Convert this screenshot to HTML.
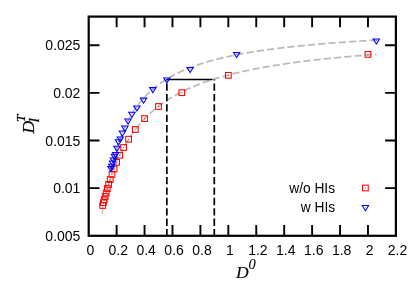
<!DOCTYPE html>
<html><head><meta charset="utf-8"><title>chart</title>
<style>html,body{margin:0;padding:0;background:#fff;overflow:hidden}svg{display:block;will-change:transform}</style></head>
<body>
<svg width="415" height="294" viewBox="0 0 415 294">
<rect width="415" height="294" fill="#fff"/>
<defs><linearGradient id="gg" gradientUnits="userSpaceOnUse" x1="110" y1="0" x2="185" y2="0"><stop offset="0" stop-color="#c4c4c4"/><stop offset="1" stop-color="#bababa"/></linearGradient></defs>
<path d="M102.25,213.9 L102.75,206" fill="none" stroke="#c0c0c0" stroke-width="1.5"/>
<path d="M102.70,205.65 L103.62,201.96 L104.53,198.42 L105.45,195.02 L106.36,191.76 L107.28,188.62 L108.19,185.61 L109.11,182.71 L110.02,179.91 L110.94,177.22 L111.85,174.62 L112.77,172.12 L113.68,169.69 L114.60,167.35 L115.52,165.09 L116.43,162.90 L117.35,160.79 L118.26,158.73 L119.18,156.75 L120.09,154.82 L121.01,152.95 L121.92,151.14 L122.84,149.38 L123.75,147.67 L124.67,146.01 L125.58,144.40 L126.50,142.83 L127.42,141.30 L128.33,139.81 L129.25,138.37 L130.16,136.96 L131.08,135.59 L131.99,134.25 L132.91,132.95 L133.82,131.68 L134.74,130.44 L135.65,129.23 L136.57,128.05 L137.48,126.90 L138.40,125.77 L139.32,124.67 L140.23,123.60 L141.15,122.55 L142.06,121.52 L142.98,120.52 L143.89,119.54 L144.81,118.58 L145.72,117.64 L146.64,116.72 L147.55,115.82 L148.47,114.94 L149.38,114.07 L150.30,113.23 L151.22,112.40 L152.13,111.59 L153.05,110.79 L153.96,110.01 L154.88,109.24 L155.79,108.49 L156.71,107.75 L157.62,107.03 L158.54,106.32 L159.45,105.63 L160.37,104.94 L161.28,104.27 L162.20,103.61 L163.12,102.96 L164.03,102.33 L164.95,101.70 L165.86,101.09 L166.78,100.49 L167.69,99.89 L168.61,99.31 L169.52,98.74 L170.44,98.17 L171.35,97.62 L172.27,97.07 L173.18,96.54 L174.10,96.01 L175.02,95.49 L175.93,94.98 L176.85,94.47 L177.76,93.98 L178.68,93.49 L179.59,93.01 L180.51,92.54 L181.42,92.07 L182.34,91.61 L183.25,91.16 L184.17,90.71 L185.08,90.27 L186.00,89.84 L186.92,89.42 L187.83,89.00 L188.75,88.58 L189.66,88.17 L190.58,87.77 L191.49,87.37 L192.41,86.98 L193.32,86.60 L194.24,86.22 L195.15,85.84 L196.07,85.47 L196.98,85.10 L197.90,84.74 L198.82,84.39 L199.73,84.04 L200.65,83.69 L201.56,83.35 L202.48,83.01 L203.39,82.68 L204.31,82.35 L205.22,82.02 L206.14,81.70 L207.05,81.38 L207.97,81.07 L208.88,80.76 L209.80,80.46 L210.72,80.16 L211.63,79.86 L212.55,79.56 L213.46,79.27 L214.38,78.98 L215.29,78.70 L216.21,78.42 L217.12,78.14 L218.04,77.87 L218.95,77.60 L219.87,77.33 L220.78,77.06 L221.70,76.80 L222.62,76.54 L223.53,76.29 L224.45,76.03 L225.36,75.78 L226.28,75.54 L227.19,75.29 L228.11,75.05 L229.02,74.81 L229.94,74.57 L230.85,74.34 L231.77,74.11 L232.68,73.88 L233.60,73.65 L234.52,73.42 L235.43,73.20 L236.35,72.98 L237.26,72.76 L238.18,72.55 L239.09,72.34 L240.01,72.12 L240.92,71.92 L241.84,71.71 L242.75,71.50 L243.67,71.30 L244.58,71.10 L245.50,70.90 L246.42,70.70 L247.33,70.51 L248.25,70.32 L249.16,70.13 L250.08,69.94 L250.99,69.75 L251.91,69.56 L252.82,69.38 L253.74,69.20 L254.65,69.02 L255.57,68.84 L256.48,68.66 L257.40,68.49 L258.32,68.31 L259.23,68.14 L260.15,67.97 L261.06,67.80 L261.98,67.63 L262.89,67.47 L263.81,67.30 L264.72,67.14 L265.64,66.98 L266.55,66.82 L267.47,66.66 L268.38,66.50 L269.30,66.34 L270.22,66.19 L271.13,66.04 L272.05,65.88 L272.96,65.73 L273.88,65.58 L274.79,65.44 L275.71,65.29 L276.62,65.14 L277.54,65.00 L278.45,64.86 L279.37,64.71 L280.28,64.57 L281.20,64.43 L282.12,64.30 L283.03,64.16 L283.95,64.02 L284.86,63.89 L285.78,63.75 L286.69,63.62 L287.61,63.49 L288.52,63.36 L289.44,63.23 L290.35,63.10 L291.27,62.97 L292.18,62.84 L293.10,62.72 L294.02,62.59 L294.93,62.47 L295.85,62.35 L296.76,62.23 L297.68,62.11 L298.59,61.99 L299.51,61.87 L300.42,61.75 L301.34,61.63 L302.25,61.51 L303.17,61.40 L304.08,61.28 L305.00,61.17 L305.92,61.06 L306.83,60.95 L307.75,60.83 L308.66,60.72 L309.58,60.61 L310.49,60.51 L311.41,60.40 L312.32,60.29 L313.24,60.18 L314.15,60.08 L315.07,59.97 L315.98,59.87 L316.90,59.77 L317.82,59.66 L318.73,59.56 L319.65,59.46 L320.56,59.36 L321.48,59.26 L322.39,59.16 L323.31,59.06 L324.22,58.97 L325.14,58.87 L326.05,58.77 L326.97,58.68 L327.88,58.58 L328.80,58.49 L329.72,58.39 L330.63,58.30 L331.55,58.21 L332.46,58.12 L333.38,58.02 L334.29,57.93 L335.21,57.84 L336.12,57.75 L337.04,57.66 L337.95,57.58 L338.87,57.49 L339.78,57.40 L340.70,57.32 L341.62,57.23 L342.53,57.14 L343.45,57.06 L344.36,56.97 L345.28,56.89 L346.19,56.81 L347.11,56.72 L348.02,56.64 L348.94,56.56 L349.85,56.48 L350.77,56.40 L351.68,56.32 L352.60,56.24 L353.52,56.16 L354.43,56.08 L355.35,56.00 L356.26,55.93 L357.18,55.85 L358.09,55.77 L359.01,55.70 L359.92,55.62 L360.84,55.54 L361.75,55.47 L362.67,55.39 L363.58,55.32 L364.50,55.25 L365.42,55.17 L366.33,55.10 L367.25,55.03 L368.16,54.96 L369.08,54.89 L369.99,54.82 L370.91,54.74 L371.82,54.67 L372.74,54.60 L373.65,54.54 L374.57,54.47 L375.48,54.40 L376.40,54.33" fill="none" stroke="url(#gg)" stroke-width="1.75" stroke-dasharray="7.2 3.1" stroke-dashoffset="8.5"/>
<path d="M110.00,172.13 L110.89,168.34 L111.78,164.74 L112.67,161.31 L113.56,158.05 L114.45,154.93 L115.35,151.96 L116.24,149.12 L117.13,146.40 L118.02,143.79 L118.91,141.29 L119.80,138.90 L120.69,136.60 L121.58,134.39 L122.47,132.26 L123.36,130.22 L124.26,128.24 L125.15,126.34 L126.04,124.51 L126.93,122.74 L127.82,121.04 L128.71,119.39 L129.60,117.79 L130.49,116.25 L131.38,114.75 L132.27,113.31 L133.17,111.91 L134.06,110.55 L134.95,109.23 L135.84,107.95 L136.73,106.71 L137.62,105.51 L138.51,104.33 L139.40,103.20 L140.29,102.09 L141.18,101.01 L142.07,99.97 L142.97,98.95 L143.86,97.95 L144.75,96.99 L145.64,96.04 L146.53,95.13 L147.42,94.23 L148.31,93.36 L149.20,92.50 L150.09,91.67 L150.98,90.86 L151.88,90.07 L152.77,89.29 L153.66,88.53 L154.55,87.79 L155.44,87.07 L156.33,86.36 L157.22,85.67 L158.11,84.99 L159.00,84.33 L159.89,83.68 L160.79,83.05 L161.68,82.43 L162.57,81.82 L163.46,81.22 L164.35,80.64 L165.24,80.06 L166.13,79.50 L167.02,78.95 L167.91,78.41 L168.80,77.88 L169.69,77.36 L170.59,76.85 L171.48,76.35 L172.37,75.86 L173.26,75.38 L174.15,74.91 L175.04,74.44 L175.93,73.99 L176.82,73.54 L177.71,73.10 L178.60,72.66 L179.50,72.24 L180.39,71.82 L181.28,71.41 L182.17,71.01 L183.06,70.61 L183.95,70.22 L184.84,69.83 L185.73,69.45 L186.62,69.08 L187.51,68.72 L188.41,68.36 L189.30,68.00 L190.19,67.65 L191.08,67.31 L191.97,66.97 L192.86,66.64 L193.75,66.31 L194.64,65.98 L195.53,65.66 L196.42,65.35 L197.32,65.04 L198.21,64.74 L199.10,64.44 L199.99,64.14 L200.88,63.85 L201.77,63.56 L202.66,63.28 L203.55,63.00 L204.44,62.72 L205.33,62.45 L206.22,62.18 L207.12,61.92 L208.01,61.65 L208.90,61.40 L209.79,61.14 L210.68,60.89 L211.57,60.64 L212.46,60.40 L213.35,60.16 L214.24,59.92 L215.13,59.69 L216.03,59.45 L216.92,59.22 L217.81,59.00 L218.70,58.78 L219.59,58.55 L220.48,58.34 L221.37,58.12 L222.26,57.91 L223.15,57.70 L224.04,57.49 L224.94,57.29 L225.83,57.08 L226.72,56.88 L227.61,56.69 L228.50,56.49 L229.39,56.30 L230.28,56.11 L231.17,55.92 L232.06,55.73 L232.95,55.55 L233.84,55.36 L234.74,55.18 L235.63,55.00 L236.52,54.83 L237.41,54.65 L238.30,54.48 L239.19,54.31 L240.08,54.14 L240.97,53.97 L241.86,53.81 L242.75,53.64 L243.65,53.48 L244.54,53.32 L245.43,53.16 L246.32,53.01 L247.21,52.85 L248.10,52.70 L248.99,52.55 L249.88,52.40 L250.77,52.25 L251.66,52.10 L252.56,51.96 L253.45,51.81 L254.34,51.67 L255.23,51.53 L256.12,51.39 L257.01,51.25 L257.90,51.11 L258.79,50.97 L259.68,50.84 L260.57,50.71 L261.46,50.57 L262.36,50.44 L263.25,50.31 L264.14,50.19 L265.03,50.06 L265.92,49.93 L266.81,49.81 L267.70,49.68 L268.59,49.56 L269.48,49.44 L270.37,49.32 L271.27,49.20 L272.16,49.08 L273.05,48.97 L273.94,48.85 L274.83,48.73 L275.72,48.62 L276.61,48.51 L277.50,48.40 L278.39,48.28 L279.28,48.17 L280.18,48.07 L281.07,47.96 L281.96,47.85 L282.85,47.74 L283.74,47.64 L284.63,47.53 L285.52,47.43 L286.41,47.33 L287.30,47.23 L288.19,47.13 L289.08,47.03 L289.98,46.93 L290.87,46.83 L291.76,46.73 L292.65,46.63 L293.54,46.54 L294.43,46.44 L295.32,46.35 L296.21,46.26 L297.10,46.16 L297.99,46.07 L298.89,45.98 L299.78,45.89 L300.67,45.80 L301.56,45.71 L302.45,45.62 L303.34,45.53 L304.23,45.44 L305.12,45.36 L306.01,45.27 L306.90,45.19 L307.80,45.10 L308.69,45.02 L309.58,44.94 L310.47,44.85 L311.36,44.77 L312.25,44.69 L313.14,44.61 L314.03,44.53 L314.92,44.45 L315.81,44.37 L316.71,44.29 L317.60,44.21 L318.49,44.14 L319.38,44.06 L320.27,43.98 L321.16,43.91 L322.05,43.83 L322.94,43.76 L323.83,43.69 L324.72,43.61 L325.61,43.54 L326.51,43.47 L327.40,43.39 L328.29,43.32 L329.18,43.25 L330.07,43.18 L330.96,43.11 L331.85,43.04 L332.74,42.97 L333.63,42.91 L334.52,42.84 L335.42,42.77 L336.31,42.70 L337.20,42.64 L338.09,42.57 L338.98,42.51 L339.87,42.44 L340.76,42.38 L341.65,42.31 L342.54,42.25 L343.43,42.18 L344.33,42.12 L345.22,42.06 L346.11,42.00 L347.00,41.93 L347.89,41.87 L348.78,41.81 L349.67,41.75 L350.56,41.69 L351.45,41.63 L352.34,41.57 L353.23,41.51 L354.13,41.45 L355.02,41.40 L355.91,41.34 L356.80,41.28 L357.69,41.22 L358.58,41.17 L359.47,41.11 L360.36,41.05 L361.25,41.00 L362.14,40.94 L363.04,40.89 L363.93,40.83 L364.82,40.78 L365.71,40.72 L366.60,40.67 L367.49,40.62 L368.38,40.56 L369.27,40.51 L370.16,40.46 L371.05,40.41 L371.95,40.35 L372.84,40.30 L373.73,40.25 L374.62,40.20 L375.51,40.15 L376.40,40.10" fill="none" stroke="url(#gg)" stroke-width="1.75" stroke-dasharray="7.2 3.1" stroke-dashoffset="-1.0"/>
<g stroke="#000" stroke-width="1.7" fill="none">
<path d="M166.85,236.3 V79.6" stroke-dasharray="7.3 3.09"/>
<path d="M214.3,236.3 V79.6" stroke-dasharray="7.3 3.09"/>
<path d="M166.8,79.4 H212.5" stroke-width="1.5"/>
</g>
<rect x="365.12" y="51.55" width="5.7" height="5.7" fill="none" stroke="#f00" stroke-width="1.05"/><circle cx="367.97" cy="54.40" r="0.55" fill="#f00"/>
<rect x="225.49" y="72.45" width="5.7" height="5.7" fill="none" stroke="#f00" stroke-width="1.05"/><circle cx="228.34" cy="75.30" r="0.55" fill="#f00"/>
<rect x="178.94" y="89.85" width="5.7" height="5.7" fill="none" stroke="#f00" stroke-width="1.05"/><circle cx="181.79" cy="92.70" r="0.55" fill="#f00"/>
<rect x="155.67" y="103.65" width="5.7" height="5.7" fill="none" stroke="#f00" stroke-width="1.05"/><circle cx="158.52" cy="106.50" r="0.55" fill="#f00"/>
<rect x="141.70" y="115.75" width="5.7" height="5.7" fill="none" stroke="#f00" stroke-width="1.05"/><circle cx="144.55" cy="118.60" r="0.55" fill="#f00"/>
<rect x="132.40" y="126.65" width="5.7" height="5.7" fill="none" stroke="#f00" stroke-width="1.05"/><circle cx="135.25" cy="129.50" r="0.55" fill="#f00"/>
<rect x="125.75" y="136.35" width="5.7" height="5.7" fill="none" stroke="#f00" stroke-width="1.05"/><circle cx="128.60" cy="139.20" r="0.55" fill="#f00"/>
<rect x="120.76" y="144.65" width="5.7" height="5.7" fill="none" stroke="#f00" stroke-width="1.05"/><circle cx="123.61" cy="147.50" r="0.55" fill="#f00"/>
<rect x="116.88" y="152.35" width="5.7" height="5.7" fill="none" stroke="#f00" stroke-width="1.05"/><circle cx="119.73" cy="155.20" r="0.55" fill="#f00"/>
<rect x="113.78" y="159.45" width="5.7" height="5.7" fill="none" stroke="#f00" stroke-width="1.05"/><circle cx="116.63" cy="162.30" r="0.55" fill="#f00"/>
<rect x="111.24" y="166.05" width="5.7" height="5.7" fill="none" stroke="#f00" stroke-width="1.05"/><circle cx="114.09" cy="168.90" r="0.55" fill="#f00"/>
<rect x="109.12" y="171.55" width="5.7" height="5.7" fill="none" stroke="#f00" stroke-width="1.05"/><circle cx="111.97" cy="174.40" r="0.55" fill="#f00"/>
<rect x="107.33" y="176.75" width="5.7" height="5.7" fill="none" stroke="#f00" stroke-width="1.05"/><circle cx="110.18" cy="179.60" r="0.55" fill="#f00"/>
<rect x="105.80" y="181.55" width="5.7" height="5.7" fill="none" stroke="#f00" stroke-width="1.05"/><circle cx="108.65" cy="184.40" r="0.55" fill="#f00"/>
<rect x="104.47" y="185.65" width="5.7" height="5.7" fill="none" stroke="#f00" stroke-width="1.05"/><circle cx="107.32" cy="188.50" r="0.55" fill="#f00"/>
<rect x="103.30" y="190.15" width="5.7" height="5.7" fill="none" stroke="#f00" stroke-width="1.05"/><circle cx="106.15" cy="193.00" r="0.55" fill="#f00"/>
<rect x="102.28" y="193.65" width="5.7" height="5.7" fill="none" stroke="#f00" stroke-width="1.05"/><circle cx="105.13" cy="196.50" r="0.55" fill="#f00"/>
<rect x="101.37" y="196.85" width="5.7" height="5.7" fill="none" stroke="#f00" stroke-width="1.05"/><circle cx="104.22" cy="199.70" r="0.55" fill="#f00"/>
<rect x="100.55" y="199.85" width="5.7" height="5.7" fill="none" stroke="#f00" stroke-width="1.05"/><circle cx="103.40" cy="202.70" r="0.55" fill="#f00"/>
<rect x="99.81" y="202.65" width="5.7" height="5.7" fill="none" stroke="#f00" stroke-width="1.05"/><circle cx="102.66" cy="205.50" r="0.55" fill="#f00"/>
<rect x="362.55" y="185.15" width="5.7" height="5.7" fill="none" stroke="#f00" stroke-width="1.05"/><circle cx="365.40" cy="188.00" r="0.55" fill="#f00"/>
<path d="M376.28,44.08 L373.08,38.90 L379.48,38.90 Z" fill="none" stroke="#00f" stroke-width="1.05"/><circle cx="376.28" cy="40.50" r="0.45" fill="#00f"/>
<path d="M236.64,57.58 L233.44,52.40 L239.84,52.40 Z" fill="none" stroke="#00f" stroke-width="1.05"/><circle cx="236.64" cy="54.00" r="0.45" fill="#00f"/>
<path d="M190.10,72.58 L186.90,67.40 L193.30,67.40 Z" fill="none" stroke="#00f" stroke-width="1.05"/><circle cx="190.10" cy="69.00" r="0.45" fill="#00f"/>
<path d="M166.83,83.08 L163.63,77.90 L170.03,77.90 Z" fill="none" stroke="#00f" stroke-width="1.05"/><circle cx="166.83" cy="79.50" r="0.45" fill="#00f"/>
<path d="M152.86,92.78 L149.66,87.60 L156.06,87.60 Z" fill="none" stroke="#00f" stroke-width="1.05"/><circle cx="152.86" cy="89.20" r="0.45" fill="#00f"/>
<path d="M143.55,103.28 L140.35,98.10 L146.75,98.10 Z" fill="none" stroke="#00f" stroke-width="1.05"/><circle cx="143.55" cy="99.70" r="0.45" fill="#00f"/>
<path d="M136.90,111.08 L133.70,105.90 L140.10,105.90 Z" fill="none" stroke="#00f" stroke-width="1.05"/><circle cx="136.90" cy="107.50" r="0.45" fill="#00f"/>
<path d="M131.92,117.48 L128.72,112.30 L135.12,112.30 Z" fill="none" stroke="#00f" stroke-width="1.05"/><circle cx="131.92" cy="113.90" r="0.45" fill="#00f"/>
<path d="M128.04,124.18 L124.84,119.00 L131.24,119.00 Z" fill="none" stroke="#00f" stroke-width="1.05"/><circle cx="128.04" cy="120.60" r="0.45" fill="#00f"/>
<path d="M124.94,131.18 L121.74,126.00 L128.14,126.00 Z" fill="none" stroke="#00f" stroke-width="1.05"/><circle cx="124.94" cy="127.60" r="0.45" fill="#00f"/>
<path d="M122.40,136.18 L119.20,131.00 L125.60,131.00 Z" fill="none" stroke="#00f" stroke-width="1.05"/><circle cx="122.40" cy="132.60" r="0.45" fill="#00f"/>
<path d="M120.28,142.08 L117.08,136.90 L123.48,136.90 Z" fill="none" stroke="#00f" stroke-width="1.05"/><circle cx="120.28" cy="138.50" r="0.45" fill="#00f"/>
<path d="M118.49,144.88 L115.29,139.70 L121.69,139.70 Z" fill="none" stroke="#00f" stroke-width="1.05"/><circle cx="118.49" cy="141.30" r="0.45" fill="#00f"/>
<path d="M116.96,151.38 L113.76,146.20 L120.16,146.20 Z" fill="none" stroke="#00f" stroke-width="1.05"/><circle cx="116.96" cy="147.80" r="0.45" fill="#00f"/>
<path d="M115.63,157.58 L112.43,152.40 L118.83,152.40 Z" fill="none" stroke="#00f" stroke-width="1.05"/><circle cx="115.63" cy="154.00" r="0.45" fill="#00f"/>
<path d="M114.46,159.38 L111.26,154.20 L117.66,154.20 Z" fill="none" stroke="#00f" stroke-width="1.05"/><circle cx="114.46" cy="155.80" r="0.45" fill="#00f"/>
<path d="M113.44,163.18 L110.24,158.00 L116.64,158.00 Z" fill="none" stroke="#00f" stroke-width="1.05"/><circle cx="113.44" cy="159.60" r="0.45" fill="#00f"/>
<path d="M112.52,166.08 L109.32,160.90 L115.72,160.90 Z" fill="none" stroke="#00f" stroke-width="1.05"/><circle cx="112.52" cy="162.50" r="0.45" fill="#00f"/>
<path d="M111.71,169.48 L108.51,164.30 L114.91,164.30 Z" fill="none" stroke="#00f" stroke-width="1.05"/><circle cx="111.71" cy="165.90" r="0.45" fill="#00f"/>
<path d="M110.97,171.78 L107.77,166.60 L114.17,166.60 Z" fill="none" stroke="#00f" stroke-width="1.05"/><circle cx="110.97" cy="168.20" r="0.45" fill="#00f"/>
<path d="M365.40,210.68 L362.20,205.50 L368.60,205.50 Z" fill="none" stroke="#00f" stroke-width="1.05"/><circle cx="365.40" cy="207.10" r="0.45" fill="#00f"/>
<g stroke="#000" fill="none">
<rect x="88.7" y="16.6" width="307.20" height="219.20" stroke-width="2.2"/>
<path d="M116.63,235.8 v-10.8 M116.63,16.6 v10.6 M144.55,235.8 v-10.8 M144.55,16.6 v10.6 M172.48,235.8 v-10.8 M172.48,16.6 v10.6 M200.41,235.8 v-10.8 M200.41,16.6 v10.6 M228.34,235.8 v-10.8 M228.34,16.6 v10.6 M256.26,235.8 v-10.8 M256.26,16.6 v10.6 M284.19,235.8 v-10.8 M284.19,16.6 v10.6 M312.12,235.8 v-10.8 M312.12,16.6 v10.6 M340.05,235.8 v-10.8 M340.05,16.6 v10.6 M367.97,235.8 v-10.8 M367.97,16.6 v10.6 M88.7,188.15 h10.8 M395.9,188.15 h-10.8 M88.7,140.50 h10.8 M395.9,140.50 h-10.8 M88.7,92.84 h10.8 M395.9,92.84 h-10.8 M88.7,45.19 h10.8 M395.9,45.19 h-10.8" stroke-width="1.9"/>
</g>
<g font-family="Liberation Sans, sans-serif" font-size="14" fill="#000">
<text x="90.30" y="254.8" text-anchor="middle">0</text>
<text x="118.23" y="254.8" text-anchor="middle">0.2</text>
<text x="146.15" y="254.8" text-anchor="middle">0.4</text>
<text x="174.08" y="254.8" text-anchor="middle">0.6</text>
<text x="202.01" y="254.8" text-anchor="middle">0.8</text>
<text x="229.94" y="254.8" text-anchor="middle">1</text>
<text x="257.86" y="254.8" text-anchor="middle">1.2</text>
<text x="285.79" y="254.8" text-anchor="middle">1.4</text>
<text x="313.72" y="254.8" text-anchor="middle">1.6</text>
<text x="341.65" y="254.8" text-anchor="middle">1.8</text>
<text x="369.57" y="254.8" text-anchor="middle">2</text>
<text x="397.50" y="254.8" text-anchor="middle">2.2</text>
<text x="80.4" y="240.80" text-anchor="end">0.005</text>
<text x="80.4" y="193.15" text-anchor="end">0.01</text>
<text x="80.4" y="145.50" text-anchor="end">0.015</text>
<text x="80.4" y="97.84" text-anchor="end">0.02</text>
<text x="80.4" y="50.19" text-anchor="end">0.025</text>
<text x="335.1" y="193" text-anchor="end" textLength="45.9" lengthAdjust="spacingAndGlyphs">w/o HIs</text>
<text x="335.1" y="211.8" text-anchor="end" textLength="34.4" lengthAdjust="spacingAndGlyphs">w HIs</text>
</g>
<g font-family="Liberation Serif, serif" font-style="italic" fill="#000" stroke="#000" stroke-width="0.25">
<text x="235.9" y="277.5" font-size="17.6" stroke-width="0.08">D</text>
<text x="248.5" y="269.1" font-size="14.4" stroke-width="0.08">0</text>
<text transform="translate(34.4,133.6) rotate(-90)" font-size="17.6">D</text>
<text transform="translate(25.1,122.0) rotate(-90)" font-size="13.3">T</text>
<text transform="translate(38.9,122.2) rotate(-90)" font-size="14.4">l</text>
</g>
</svg>
</body></html>
